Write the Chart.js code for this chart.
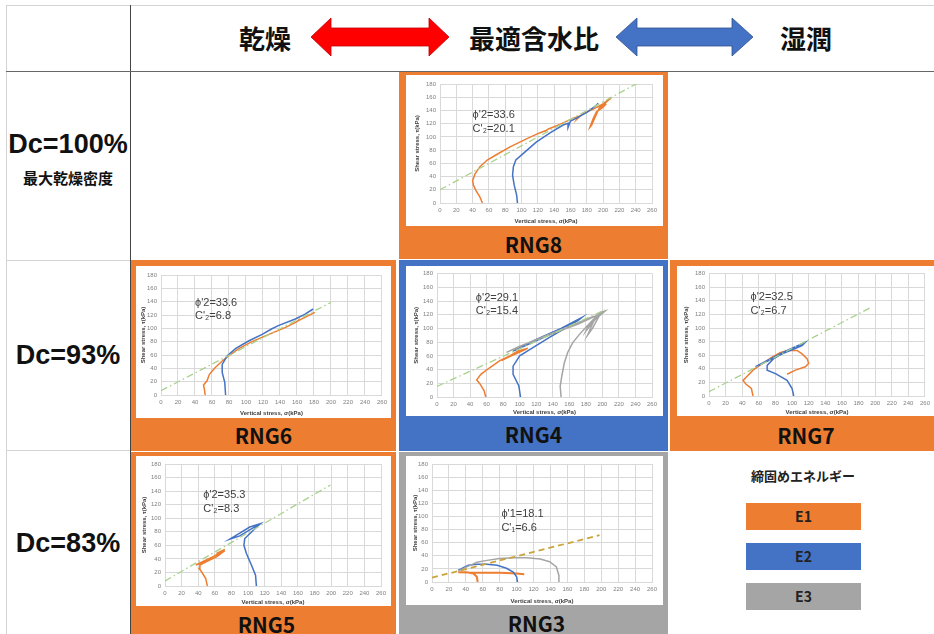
<!DOCTYPE html>
<html lang="ja">
<head>
<meta charset="utf-8">
<script src="https://cdn.jsdelivr.net/npm/chart.js@4"></script>
<style>
body{margin:0;width:934px;height:634px;position:relative;overflow:hidden;background:#fff;font-family:"Noto Sans CJK JP",sans-serif;}
.ln{position:absolute;background:#d4d4d4}
.dk{background:#444}
.frame{position:absolute}
.lbl{position:absolute;left:0;right:0;height:24px;line-height:24px;text-align:center;font-weight:bold;font-size:21px;color:#111}
.txt{position:absolute;text-align:center;font-weight:bold;color:#111;white-space:nowrap}
.dc{font-family:"Liberation Sans",Arial,sans-serif;font-size:27px;line-height:30px;left:6px;width:124px}
.hd{font-size:26px;line-height:30px;top:23px;width:160px}
.key{position:absolute;left:746px;width:115px;height:27px;line-height:27px;text-align:center;font-weight:bold;font-size:14px;color:#222}
canvas{position:absolute;background:#fff}
</style>
</head>
<body>
<!-- table lines -->
<div class="ln" style="left:6px;top:5px;width:928px;height:1px"></div>
<div class="ln" style="left:6px;top:5px;width:1px;height:629px"></div>
<div class="ln dk" style="left:130px;top:5px;width:1px;height:629px"></div>
<div class="ln" style="left:6px;top:71px;width:928px;height:1px;background:#666"></div>
<div class="ln" style="left:6px;top:260px;width:124px;height:1px"></div>
<div class="ln" style="left:6px;top:450px;width:124px;height:1px"></div>

<!-- header -->
<div class="txt hd" style="left:185px">乾燥</div>
<div class="txt hd" style="left:454px">最適含水比</div>
<div class="txt hd" style="left:726px">湿潤</div>
<svg style="position:absolute;left:0;top:0" width="934" height="71">
  <polygon points="311,37 331,18 331,28 429,28 429,18 449,37 429,56 429,46 331,46 331,56" fill="#ff0000" stroke="#c00000" stroke-width="0.8"/>
  <polygon points="616,37 637,18 637,28 732,28 732,18 753,37 732,56 732,46 637,46 637,56" fill="#4472c4" stroke="#2f528f" stroke-width="0.8"/>
</svg>

<!-- row labels -->
<div class="txt dc" style="top:129px">Dc=100%</div>
<div class="txt" style="left:6px;width:124px;top:169px;font-size:15px;line-height:18px">最大乾燥密度</div>
<div class="txt dc" style="top:340px">Dc=93%</div>
<div class="txt dc" style="top:528px">Dc=83%</div>

<!-- frames -->
<div class="frame" style="left:399px;top:72px;width:269px;height:187px;background:#ed7d31"><div class="lbl" style="top:160px">RNG8</div></div>
<div class="frame" style="left:131px;top:260px;width:265px;height:191px;background:#ed7d31"><div class="lbl" style="top:163px">RNG6</div></div>
<div class="frame" style="left:399px;top:260px;width:269px;height:191px;background:#4472c4"><div class="lbl" style="top:162px">RNG4</div></div>
<div class="frame" style="left:670px;top:260px;width:264px;height:191px;background:#ed7d31"><div class="lbl" style="top:163px;left:8px">RNG7</div></div>
<div class="frame" style="left:131px;top:452px;width:265px;height:182px;background:#ed7d31"><div class="lbl" style="top:160px;left:6px">RNG5</div></div>
<div class="frame" style="left:399px;top:452px;width:269px;height:182px;background:#a5a5a5"><div class="lbl" style="top:159px;left:6px">RNG3</div></div>

<!-- legend cell -->
<div class="txt" style="left:670px;width:266px;top:466px;font-size:13px;line-height:20px;color:#222">締固めエネルギー</div>
<div class="key" style="top:503px;background:#ed7d31">E1</div>
<div class="key" style="top:543px;background:#4472c4">E2</div>
<div class="key" style="top:583px;background:#a5a5a5">E3</div>

<canvas id="rng8" width="257" height="151" style="left:406px;top:75px"></canvas>
<canvas id="rng6" width="255" height="152" style="left:136px;top:266px"></canvas>
<canvas id="rng4" width="257" height="150" style="left:406px;top:266px"></canvas>
<canvas id="rng7" width="257" height="150" style="left:677px;top:266px"></canvas>
<canvas id="rng5" width="255" height="150" style="left:136px;top:456px"></canvas>
<canvas id="rng3" width="257" height="149" style="left:406px;top:456px"></canvas>

<script>
// axis ticks
const xTicks = [0, 260, 20];
const yTicks = [0, 180, 20];

// stress paths: [σ, τ] in kPa
const rng8E1 = [[52,0],[49,9],[44,19],[41,27],[40,34],[43,44],[49,55],[58,65],[69,73],[86,85],[106,97],[122,106],[131,110],[128,108],[133,112],[147,119],[163,128],[170,131],[168,127],[174,134],[188,142],[200,150],[210,160],[196,146],[186,118],[184,115],[188,128],[192,138],[200,145],[204,150],[196,143],[204,153],[210,159]];
const rng8E2 = [[95,0],[94,12],[91,27],[89,42],[90,55],[93,65],[104,77],[118,92],[135,106],[151,118],[158,121],[157,114],[160,124],[167,128],[180,137],[190,146],[194,151]];
const rng8Fail = [[0,20],[245,183]];

const rng6E1 = [[52,0],[51,9],[50,15],[54,21],[57,31],[63,40],[72,51],[80,59],[92,70],[107,80],[127,91],[146,101],[160,110],[163,114],[161,111],[164,113],[181,124]];
const rng6E2 = [[76,0],[75,19],[72,34],[72,46],[78,59],[88,70],[103,81],[119,91],[130,99],[138,104],[158,114],[169,121],[179,129]];
const rng6Fail = [[0,6.5],[200,139]];

const rng4E1 = [[59,0],[57,9],[52,19],[48,25],[53,33],[64,43],[76,53],[88,60],[98,67],[110,71],[104,69],[78,53],[86,58],[108,70]];
const rng4E2 = [[101,0],[99,16],[92,33],[92,45],[100,60],[116,72],[136,87],[156,101],[172,113],[175,116],[150,100],[120,84],[92,67],[120,82],[160,104]];
const rng4E3 = [[150,0],[149,16],[151,31],[154,50],[158,65],[164,79],[172,91],[181,103],[189,113],[197,123],[202,125],[190,112],[182,90],[188,100],[196,118],[200,124],[184,106],[180,96],[192,114],[202,124],[170,106],[130,88],[100,74],[84,65],[110,79],[150,98],[190,118]];
const rng4Fail = [[0,15.5],[203,127]];

const rng7E1 = [[53,0],[51,11],[44,18],[41,23],[45,28],[53,38],[61,45],[76,57],[86,64],[96,67],[106,67],[112,62],[118,55],[120,48],[116,43],[104,38],[94,32]];
const rng7E2 = [[102,0],[100,11],[94,23],[80,33],[70,38],[70,45],[78,55],[88,62],[100,68],[112,74],[116,79],[92,66],[56,43],[80,57],[114,78]];
const rng7Fail = [[0,6.3],[196,131]];

const rng5E1 = [[51,0],[49,11],[44,21],[41,26],[42,31],[50,36],[62,43],[72,52],[56,42],[37,31],[50,37],[72,54],[62,48]];
const rng5E2 = [[110,0],[109,16],[104,31],[98,48],[95,60],[96,70],[102,77],[112,89],[115,92],[102,87],[90,78],[78,69],[90,74],[113,91]];
const rng5Fail = [[0,7.4],[199,149]];

const rng3E1 = [[54,0],[53,8],[49,13],[41,15],[31,15],[61,14],[81,14],[100,13],[109,12]];
const rng3E2 = [[101,0],[100,8],[96,15],[88,21],[77,25.5],[65,27],[53,27],[43,25.5],[37,22],[33,19],[31,18]];
const rng3E3 = [[150,0],[150,10],[147,23],[139,31],[128,35],[112,37],[96,37],[80,36],[65,33],[53,30],[47,26.5],[41,23],[35,19],[31,17]];
const rng3Fail = [[0,6.6],[198,71.4]];

// strength parameter labels, anchored at [σ, τ]
const rng8Notes = [["ϕ'2=33.6", 40, 133], ["C'₂=20.1", 40, 112]];
const rng6Notes = [["ϕ'2=33.6", 40, 138], ["C'₂=6.8", 40, 119]];
const rng4Notes = [["ϕ'2=29.1", 47, 145], ["C'₂=15.4", 47, 125]];
const rng7Notes = [["ϕ'2=32.5", 50, 145], ["C'₂=6.7", 50, 125]];
const rng5Notes = [["ϕ'2=35.3", 46, 135], ["C'₂=8.3", 46, 114]];
const rng3Notes = [["ϕ'1=18.1", 82, 104], ["C'₁=6.6", 82, 83]];

Chart.defaults.font.family = '"Liberation Sans", Arial, sans-serif';

const ORANGE = '#ed7d31', BLUE = '#4472c4', GRAY = '#a5a5a5';

const notePlugin = {
    id: 'notes',
    afterDatasetsDraw(chart, args, opts) {
        const { ctx, scales: { x, y } } = chart;
        ctx.save();
        ctx.font = '11px "Liberation Sans", Arial, sans-serif';
        ctx.fillStyle = '#404040';
        ctx.textBaseline = 'middle';
        opts.items.forEach(([t, vx, vy]) => ctx.fillText(t, x.getPixelForValue(vx), y.getPixelForValue(vy)));
        ctx.restore();
    }
};

function path(data, color, width) {
    return {
        data: data.map(([x, y]) => ({ x, y })),
        showLine: true, borderColor: color, borderWidth: width || 1.5,
        pointRadius: 0, tension: 0
    };
}

// plot area in canvas pixels: left, right, top, bottom; title centres
function makeChart(id, pa, yTitleX, xTitleY, sets, notes) {
    const cv = document.getElementById(id);
    const W = cv.width, H = cv.height;
    new Chart(cv, {
        type: 'scatter',
        data: { datasets: sets },
        options: {
            responsive: false,
            animation: false,
            layout: { padding: { left: 0, bottom: 0, top: pa[2], right: W - pa[1] } },
            plugins: { legend: { display: false }, tooltip: { enabled: false }, notes: { items: notes } },
            scales: {
                x: {
                    min: xTicks[0], max: xTicks[1],
                    ticks: { stepSize: xTicks[2], autoSkip: false, maxRotation: 0, padding: 4, color: '#808080', font: { size: 6 } },
                    grid: { color: '#d9d9d9', drawTicks: false },
                    border: { color: '#d9d9d9' },
                    title: { display: true, text: 'Vertical stress, σ(kPa)', color: '#404040', font: { size: 6, weight: 'bold' },
                             padding: { top: 0, bottom: Math.max(0, H - xTitleY - 3.6) } },
                    afterFit(s) { s.height = H - pa[3]; }
                },
                y: {
                    min: yTicks[0], max: yTicks[1],
                    ticks: { stepSize: yTicks[2], padding: 4, color: '#808080', font: { size: 6 } },
                    grid: { color: '#d9d9d9', drawTicks: false },
                    border: { color: '#d9d9d9' },
                    title: { display: true, text: 'Shear stress, τ(kPa)', color: '#404040', font: { size: 6, weight: 'bold' },
                             padding: { top: Math.max(0, yTitleX - 3.6), bottom: 0 } },
                    afterFit(s) { s.width = pa[0]; }
                }
            }
        },
        plugins: [notePlugin]
    });
}

const failDash = [7, 3, 1.5, 3];
function fail(d) { return Object.assign(path(d, '#a9d18e', 1.3), { borderDash: failDash }); }

makeChart('rng8', [34, 246, 9, 128], 11, 146,
    [fail(rng8Fail), path(rng8E2, BLUE), path(rng8E1, ORANGE)], rng8Notes);
makeChart('rng6', [25, 248, 9, 129], 7, 147,
    [fail(rng6Fail), path(rng6E2, BLUE), path(rng6E1, ORANGE)], rng6Notes);
makeChart('rng4', [31, 246, 7, 131], 10, 146,
    [fail(rng4Fail), path(rng4E3, GRAY), path(rng4E2, BLUE), path(rng4E1, ORANGE)], rng4Notes);
makeChart('rng7', [32, 248, 6, 130], 9, 146,
    [fail(rng7Fail), path(rng7E2, BLUE), path(rng7E1, ORANGE)], rng7Notes);
makeChart('rng5', [29, 245, 8, 130], 8, 146,
    [fail(rng5Fail), path(rng5E2, BLUE), path(rng5E1, ORANGE)], rng5Notes);
makeChart('rng3', [26, 246, 8, 126], 9, 145,
    [Object.assign(path(rng3Fail, '#c9a43a', 1.8), { borderDash: [6, 4] }),
     path(rng3E3, GRAY), path(rng3E2, BLUE), path(rng3E1, ORANGE, 2)], rng3Notes);
</script>
</body>
</html>
